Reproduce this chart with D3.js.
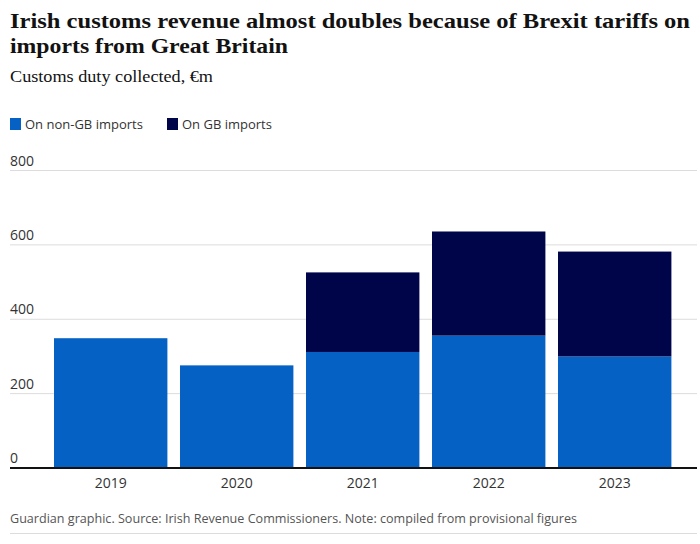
<!DOCTYPE html>
<head>
    <title>Irish customs revenue</title>
</head>
<meta charset="utf-8">

<script src="https://d3js.org/d3.v7.min.js"></script>

<style>
  body { margin: 0; background: #fff; }
  text { font-family: "Open Sans", sans-serif; }
</style>

<div id="my_dataviz"></div>
<body>
    <script>

    // data
    var years = ["2019", "2020", "2021", "2022", "2023"]
    var nonGB = [349, 276, 312, 356, 300]
    var onGB = [0, 0, 214, 280, 282]
    var yTicks = [0, 200, 400, 600, 800]
    var seriesNames = ["On non-GB imports", "On GB imports"]
    var colors = ["#0561c4", "#00054a"]

    var width = 700, height = 544

    var svg = d3.select("#my_dataviz")
      .append("svg")
        .attr("width", width)
        .attr("height", height)

    // title + subtitle
    svg.append("text")
      .attr("x", 10).attr("y", 28)
      .attr("textLength", 680).attr("lengthAdjust", "spacingAndGlyphs")
      .style("font-family", "'Liberation Serif', serif")
      .style("font-weight", "bold")
      .style("font-size", "22px")
      .style("fill", "#121212")
      .text("Irish customs revenue almost doubles because of Brexit tariffs on")
    svg.append("text")
      .attr("x", 10).attr("y", 53)
      .attr("textLength", 278).attr("lengthAdjust", "spacingAndGlyphs")
      .style("font-family", "'Liberation Serif', serif")
      .style("font-weight", "bold")
      .style("font-size", "22px")
      .style("fill", "#121212")
      .text("imports from Great Britain")
    svg.append("text")
      .attr("x", 10).attr("y", 82)
      .attr("textLength", 203).attr("lengthAdjust", "spacingAndGlyphs")
      .style("font-family", "'Liberation Serif', serif")
      .style("font-size", "16px")
      .style("fill", "#121212")
      .text("Customs duty collected, €m")

    // legend
    var legendX = [10, 167]
    var legend = svg.selectAll("g.legend")
      .data(seriesNames).enter()
      .append("g")
        .attr("class", "legend")
        .attr("transform", function(d, i) { return "translate(" + legendX[i] + ",118)" })
    legend.append("rect")
      .attr("width", 11).attr("height", 12)
      .style("fill", function(d, i) { return colors[i] })
    legend.append("text")
      .attr("x", 15).attr("y", 11)
      .style("font-size", "13px")
      .style("fill", "#333")
      .text(function(d) { return d })

    // scales
    var x = d3.scaleBand()
      .domain(years)
      .range([47.7, 677.7])
      .paddingInner(0.1)
      .paddingOuter(0.05)

    var y = d3.scaleLinear()
      .domain([0, 800])
      .range([468, 170.5])

    // gridlines and tick labels
    var grid = svg.selectAll("g.grid")
      .data(yTicks).enter()
      .append("g")
        .attr("class", "grid")
        .attr("transform", function(d) { return "translate(0," + y(d) + ")" })
    grid.append("line")
      .attr("x1", 10).attr("x2", 697)
      .style("stroke", "#dcdcdc")
      .style("stroke-width", 1)
    grid.append("text")
      .attr("x", 10).attr("y", -5)
      .style("font-size", "14px")
      .style("fill", "#333")
      .text(function(d) { return d })

    // stacked bars
    var table = years.map(function(yr, i) { return {year: yr, nonGB: nonGB[i], onGB: onGB[i]} })
    var stacked = d3.stack().keys(["nonGB", "onGB"])(table)

    svg.selectAll("g.layer")
      .data(stacked).enter()
      .append("g")
        .attr("class", "layer")
        .style("fill", function(d, i) { return colors[i] })
      .selectAll("rect")
      .data(function(d) { return d.filter(function(s) { return s[1] > s[0] }) })
      .enter()
      .append("rect")
        .attr("x", function(d) { return x(d.data.year) })
        .attr("width", x.bandwidth())
        .attr("y", function(d) { return y(d[1]) })
        .attr("height", function(d) { return y(d[0]) - y(d[1]) })

    // baseline
    svg.append("line")
      .attr("x1", 10).attr("x2", 697)
      .attr("y1", y(0)).attr("y2", y(0))
      .style("stroke", "#121212")
      .style("stroke-width", 2)

    // x labels
    svg.selectAll("text.year")
      .data(years).enter()
      .append("text")
        .attr("class", "year")
        .attr("x", function(d) { return x(d) + x.bandwidth() / 2 })
        .attr("y", 488)
        .style("text-anchor", "middle")
        .style("font-size", "14px")
        .style("fill", "#333")
        .text(function(d) { return d })

    // footer
    svg.append("text")
      .attr("x", 10).attr("y", 523)
      .attr("textLength", 567).attr("lengthAdjust", "spacingAndGlyphs")
      .style("font-size", "12.5px")
      .style("fill", "#555")
      .text("Guardian graphic. Source: Irish Revenue Commissioners. Note: compiled from provisional figures")
    svg.append("line")
      .attr("x1", 10).attr("x2", 697)
      .attr("y1", 533.5).attr("y2", 533.5)
      .style("stroke", "#dcdcdc")

</script>
</body>
